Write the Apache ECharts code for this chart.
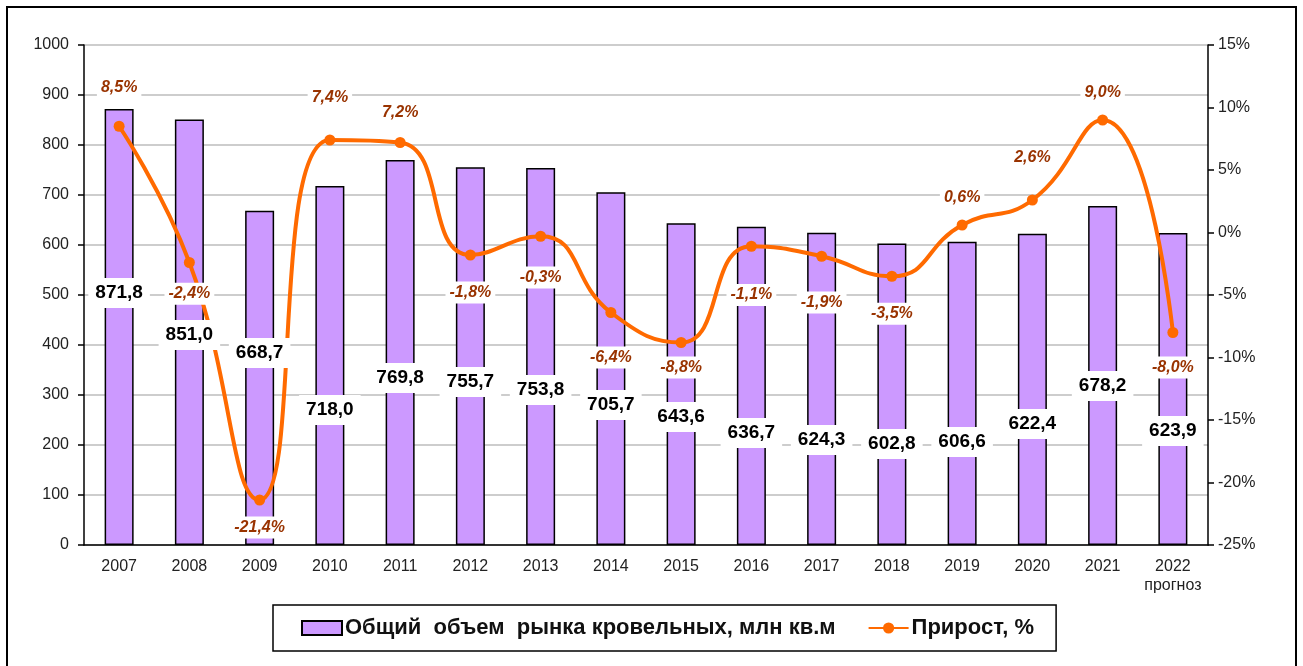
<!DOCTYPE html>
<html>
<head>
<meta charset="utf-8">
<script src="https://cdn.jsdelivr.net/npm/echarts@6/dist/echarts.min.js"></script>
<style>
    html, body { margin: 0; padding: 0; background: #fff; }
    #chart { width: 1303px; height: 666px; }
</style>
</head>
<body>
<div id="chart"></div>
<script>
// данные
const years = ['2007', '2008', '2009', '2010', '2011', '2012', '2013', '2014', '2015', '2016', '2017', '2018', '2019', '2020', '2021', '2022\nпрогноз'];
const volume = [871.8, 851.0, 668.7, 718.0, 769.8, 755.7, 753.8, 705.7, 643.6, 636.7, 624.3, 602.8, 606.6, 622.4, 678.2, 623.9];
const growth = [8.5, -2.4, -21.4, 7.4, 7.2, -1.8, -0.3, -6.4, -8.8, -1.1, -1.9, -3.5, 0.6, 2.6, 9.0, -8.0];

// где стоят подписи (в единицах осей), как в оригинале
const volumeLabelAt = [504, 420, 384, 270, 334, 326, 310, 280, 256, 224, 210, 202, 206, 242, 318, 228];
const growthLabelAt = [11.6, -4.9, -23.6, 10.8, 9.6, -4.8, -3.6, -10.0, -10.8, -5.0, -5.6, -6.5, 2.8, 6.0, 11.2, -10.8];

const barName = 'Общий  объем  рынка кровельных, млн кв.м';
const lineName = 'Прирост, %';

function comma(v, digits) {
    return v.toFixed(digits).replace('.', ',');
}

(function () {
    let myChart = echarts.init(document.getElementById('chart'));
    let option = {
        animation: false,
        textStyle: {
            fontFamily: 'Liberation Sans, Arial, sans-serif'
        },
        graphic: [
            {
                type: 'rect',
                shape: { x: 7, y: 7, width: 1289, height: 680 },
                style: { fill: 'none', stroke: '#000', lineWidth: 2 },
                silent: true
            }
        ],
        grid: {
            left: 84,
            right: 95,
            top: 45,
            bottom: 121
        },
        legend: {
            data: [
                { name: barName, icon: 'rect' },
                { name: lineName }
            ],
            left: 273,
            top: 605,
            padding: [12, 22, 12, 28],
            borderColor: '#000',
            borderWidth: 1.5,
            itemGap: 32,
            itemWidth: 40,
            itemHeight: 14,
            textStyle: {
                fontFamily: 'Liberation Sans Narrow, Arial Narrow, Liberation Sans, sans-serif',
                fontSize: 22,
                fontWeight: 'bold',
                color: '#111',
                padding: [0, 0, 0, -2]
            }
        },
        xAxis: [
            {
                type: 'category',
                data: years,
                axisLine: { lineStyle: { color: '#000', width: 1.5 } },
                axisTick: { length: 6, lineStyle: { color: '#000', width: 1.5 } },
                axisLabel: {
                    color: '#222',
                    fontSize: 16,
                    lineHeight: 19,
                    margin: 12,
                    interval: 0
                }
            }
        ],
        yAxis: [
            {
                type: 'value',
                min: 0,
                max: 1000,
                interval: 100,
                axisLine: { show: true, lineStyle: { color: '#000', width: 1.5 } },
                axisTick: { show: true, length: 6, lineStyle: { color: '#000', width: 1.5 } },
                axisLabel: { color: '#222', fontSize: 16, margin: 15, formatter: v => String(v) },
                splitLine: { lineStyle: { color: '#bdbdbd', width: 1.5 } }
            },
            {
                type: 'value',
                min: -25,
                max: 15,
                interval: 5,
                axisLine: { show: true, lineStyle: { color: '#000', width: 1.5 } },
                axisTick: { show: true, length: 6, lineStyle: { color: '#000', width: 1.5 } },
                axisLabel: { color: '#222', fontSize: 16, margin: 10, formatter: '{value}%' },
                splitLine: { show: false }
            }
        ],
        series: [
            {
                name: barName,
                type: 'bar',
                data: volume,
                barWidth: 29,
                itemStyle: {
                    color: '#cc99ff',
                    borderColor: '#000',
                    borderWidth: 1.5
                },
                z: 2
            },
            {
                name: lineName,
                type: 'line',
                yAxisIndex: 1,
                data: growth,
                smooth: 0.5,
                symbol: 'circle',
                symbolSize: 11,
                lineStyle: { color: '#ff6a00', width: 4 },
                itemStyle: { color: '#ff6a00' },
                z: 3
            },
            {
                // подписи столбцов
                name: 'volumeLabels',
                type: 'scatter',
                data: volumeLabelAt.map((v, i) => [i, v]),
                symbolSize: 0,
                silent: true,
                z: 5,
                itemStyle: { opacity: 1 },
                emphasis: { disabled: true },
                label: {
                    show: true,
                    position: 'inside',
                    formatter: p => comma(volume[p.dataIndex], 1),
                    fontSize: 19,
                    fontWeight: 'bold',
                    color: '#000',
                    opacity: 1,
                    backgroundColor: '#fff',
                    padding: [6, 7, 5, 7]
                }
            },
            {
                // подписи прироста
                name: 'growthLabels',
                type: 'scatter',
                yAxisIndex: 1,
                data: growthLabelAt.map((v, i) => [i, v]),
                symbolSize: 0,
                silent: true,
                z: 6,
                itemStyle: { opacity: 1 },
                emphasis: { disabled: true },
                label: {
                    show: true,
                    position: 'inside',
                    formatter: p => comma(growth[p.dataIndex], 1) + '%',
                    fontSize: 16,
                    fontWeight: 'bold',
                    fontStyle: 'italic',
                    color: '#993300',
                    opacity: 1,
                    backgroundColor: '#fff',
                    padding: [3, 4]
                }
            }
        ]
    };
    myChart.setOption(option);
})();
</script>
</body>
</html>
